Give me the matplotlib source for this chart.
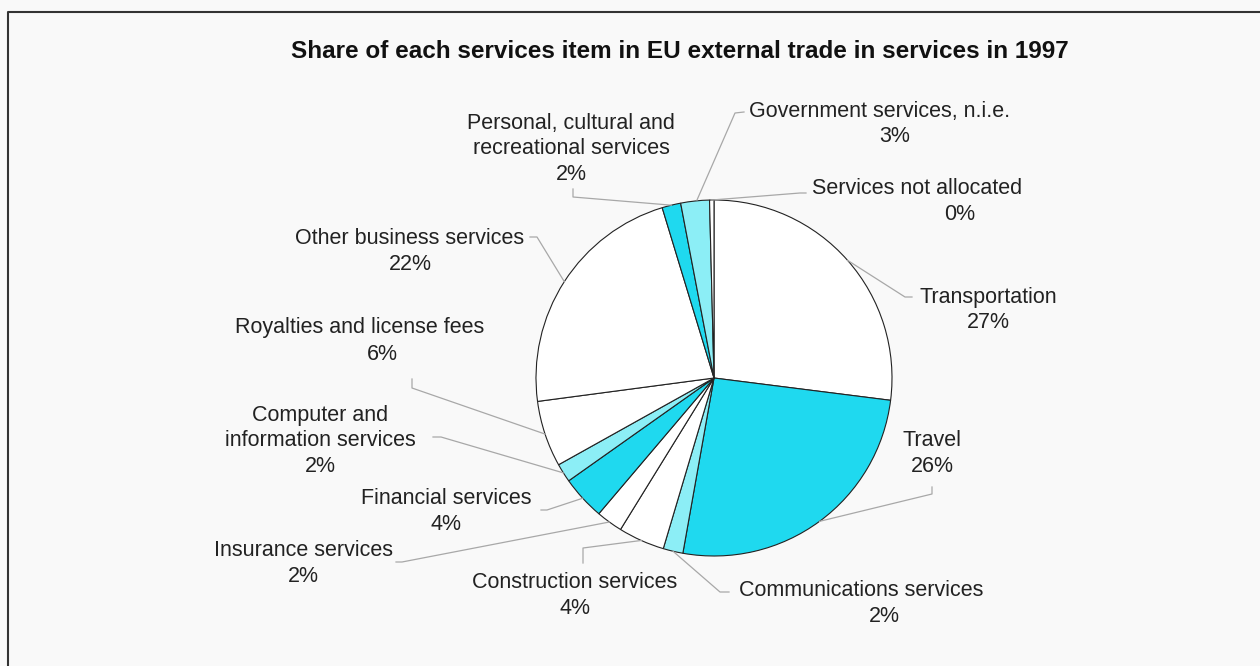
import numpy as np
import matplotlib
matplotlib.use("Agg")
import matplotlib.pyplot as plt
from matplotlib.lines import Line2D

# Share of each services item in EU external trade in services, 1997 (%)
items = ["Transportation", "Travel", "Communications services", "Construction services",
         "Insurance services", "Financial services", "Computer and\ninformation services",
         "Royalties and license fees", "Other business services",
         "Personal, cultural and\nrecreational services", "Government services, n.i.e.",
         "Services not allocated"]
shares = [27.0, 25.8, 1.8, 4.2, 2.4, 4.0, 1.7, 6.0, 22.4, 1.7, 2.6, 0.4]

CYAN = "#1fd9ef"
LIGHT = "#8ceef6"
WHITE = "#ffffff"
slice_colors = [WHITE, CYAN, LIGHT, WHITE, WHITE, CYAN, LIGHT, WHITE, WHITE, CYAN, LIGHT, WHITE]

W, H = 1260, 666
CX, CY, R = 714, 378, 178


def Y(y):
    # pixel row (top down) -> axes y
    return H - y


# label layout in pixels: (name x, pct x, first line y)
label_pos = [(988, 988, 297), (932, 932, 440), (861, 884, 591), (575, 575, 583),
             (303, 303, 550), (446, 446, 498), (320, 320, 415), (360, 382, 328),
             (410, 410, 239), (571, 571, 123), (880, 895, 111), (917, 960, 189)]
# leader line points after the pie edge point
leaders = [[(905, 297), (912, 297)], [(932, 494), (932, 487)], [(720, 592), (729, 592)],
           [(583, 548), (583, 563)], [(402, 562), (396, 562)], [(547, 510), (541, 510)],
           [(441, 437), (433, 437)], [(412, 388), (412, 379)], [(537, 237), (530, 237)],
           [(573, 197), (573, 189)], [(697, 200), (735, 113), (744, 112)],
           [(800, 193), (806, 193)]]

fig = plt.figure(figsize=(W / 100, H / 100), dpi=100, facecolor="#f9f9f9")
ax = fig.add_axes([0, 0, 1, 1])
ax.set_facecolor("#f9f9f9")

ax.pie(shares, colors=slice_colors, startangle=90, counterclock=False,
       center=(CX, Y(CY)), radius=R, frame=True,
       wedgeprops=dict(edgecolor="#222222", linewidth=0.8))
ax.set_xlim(0, W)
ax.set_ylim(0, H)
ax.set_aspect("auto")
ax.axis("off")

# leader lines and labels
cum = np.cumsum([0] + shares[:-1])
LINE_H = 26
for i, (name, v) in enumerate(zip(items, shares)):
    mid = np.deg2rad(90 - 3.6 * (cum[i] + v / 2))
    ex, ey = CX + R * np.cos(mid), CY - R * np.sin(mid)
    pts = [(ex, ey)] + leaders[i]
    if i == 10:
        pts = leaders[i]
    ax.plot([p[0] for p in pts], [Y(p[1]) for p in pts], color="#a8a8a8", lw=0.9, zorder=1)

    nx, px, y0 = label_pos[i]
    lines = name.split("\n")
    for k, ln in enumerate(lines):
        ax.text(nx, Y(y0 + k * LINE_H), ln, ha="center", va="center",
                fontsize=15.5, family="Liberation Sans", color="#222222")
    ax.text(px, Y(y0 + len(lines) * LINE_H), f"{round(v):.0f}%", ha="center", va="center",
            fontsize=15.5, family="Liberation Sans", color="#222222")

ax.text(680, Y(52), "Share of each services item in EU external trade in services in 1997",
        ha="center", va="center", fontsize=17.5, fontweight="bold",
        family="Liberation Sans", color="#111111")

# outer frame (top and left edges visible)
fig.add_artist(Line2D([8 / W, 8 / W, 1], [0, 1 - 12 / H, 1 - 12 / H],
                      transform=fig.transFigure, color="#333333", lw=1.5))

fig.savefig("out.png", dpi=100, facecolor=fig.get_facecolor())
